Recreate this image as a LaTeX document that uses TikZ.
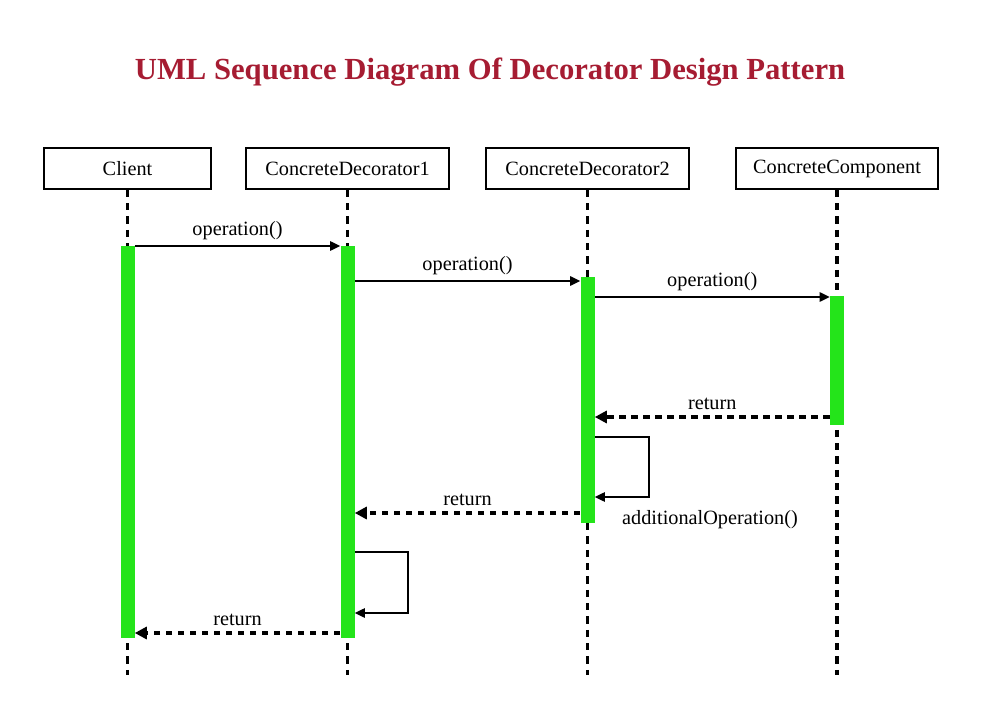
\documentclass[tikz,border=0pt]{standalone}
\usepackage{fontspec}
\setmainfont{Liberation Serif}
\usepackage{tikz}
\usetikzlibrary{positioning, arrows.meta, calc}
\definecolor{titlered}{RGB}{166, 28, 50}
\definecolor{activegreen}{RGB}{36, 228, 26}
\tikzset{
    lifebox/.style={draw, rectangle, line width=1.2pt, minimum height=30.75pt, inner sep=0pt},
    lifeline/.style={line width=2.6pt, dash pattern=on 5.5pt off 4.5pt},
    activebar/.style={rectangle, fill=activegreen, draw=none, minimum width=10.5pt, inner sep=0pt, anchor=north},
    msg/.style={-{Triangle[length=7.5pt,width=7pt]}, line width=1.1pt},
    retmsg/.style={-{Triangle[length=9pt,width=9pt]}, line width=2.6pt, dash pattern=on 5pt off 4pt},
}

\begin{document}
\begin{tikzpicture}[x=0.75pt, y=-0.75pt, every node/.style={font=\fontsize{15.2}{18}\selectfont}]
    \useasboundingbox (0,0) rectangle (994,716);

    % Title
    \node [font=\fontsize{23}{28}\selectfont\bfseries, text=titlered] (title) at (490,72) {UML Sequence Diagram Of Decorator Design Pattern};

    % Lifeline Header Nodes
    \node [lifebox, minimum width=125.25pt] (client) at (127.5,168.5) {Client};
    \node [lifebox, minimum width=152.25pt] (decA) at (347.5,168.5) {ConcreteDecorator1};
    \node [lifebox, minimum width=152.25pt] (decB) at (587.5,168.5) {ConcreteDecorator2};
    \node [lifebox, minimum width=151.5pt] (comp) at (837,168.5) {ConcreteComponent};

    % Lifeline Verticals
    \draw [lifeline] (client.south) -- (client |- 0,675);
    \draw [lifeline] (decA.south) -- (decA |- 0,675);
    \draw [lifeline] (decB.south) -- (decB |- 0,675);
    \draw [lifeline] (comp.south) -- (comp |- 0,675);

    % Activation Bars
    \node [activebar, minimum height=294pt] (barClient) at (client |- 0,246) {};
    \node [activebar, minimum height=294pt] (barDecA) at (decA |- 0,246) {};
    \node [activebar, minimum height=184.5pt] (barDecB) at (decB |- 0,277) {};
    \node [activebar, minimum height=96.75pt] (barComp) at (comp |- 0,296) {};

    % Message Heights
    \coordinate (m1) at (0,246);
    \coordinate (m2) at (0,281);
    \coordinate (m3) at (0,297);
    \coordinate (r1) at (0,417);
    \coordinate (s1) at (0,437);
    \coordinate (s1e) at (0,497);
    \coordinate (r2) at (0,513);
    \coordinate (s2) at (0,552);
    \coordinate (s2e) at (0,613);
    \coordinate (r3) at (0,633);

    % Sequential Messages
    \draw [msg] (barClient.east |- m1) -- node [above=1pt] {operation()} (barDecA.west |- m1);
    \draw [msg] (barDecA.east |- m2) -- node [above=1pt] {operation()} (barDecB.west |- m2);
    \draw [msg] (barDecB.east |- m3) -- node [above=1pt] {operation()} (barComp.west |- m3);
    \draw [retmsg] (barComp.west |- r1) -- node [above=1pt] {return} (barDecB.east |- r1);
    \draw [msg] (barDecB.east |- s1) -- ++(54,0) |- (barDecB.east |- s1e);
    \node (addOp) at (710,520) {additionalOperation()};
    \draw [retmsg] (barDecB.west |- r2) -- node [above=1pt] {return} (barDecA.east |- r2);
    \draw [msg] (barDecA.east |- s2) -- ++(53,0) |- (barDecA.east |- s2e);
    \draw [retmsg] (barDecA.west |- r3) -- node [above=1pt] {return} (barClient.east |- r3);
\end{tikzpicture}
\end{document}
